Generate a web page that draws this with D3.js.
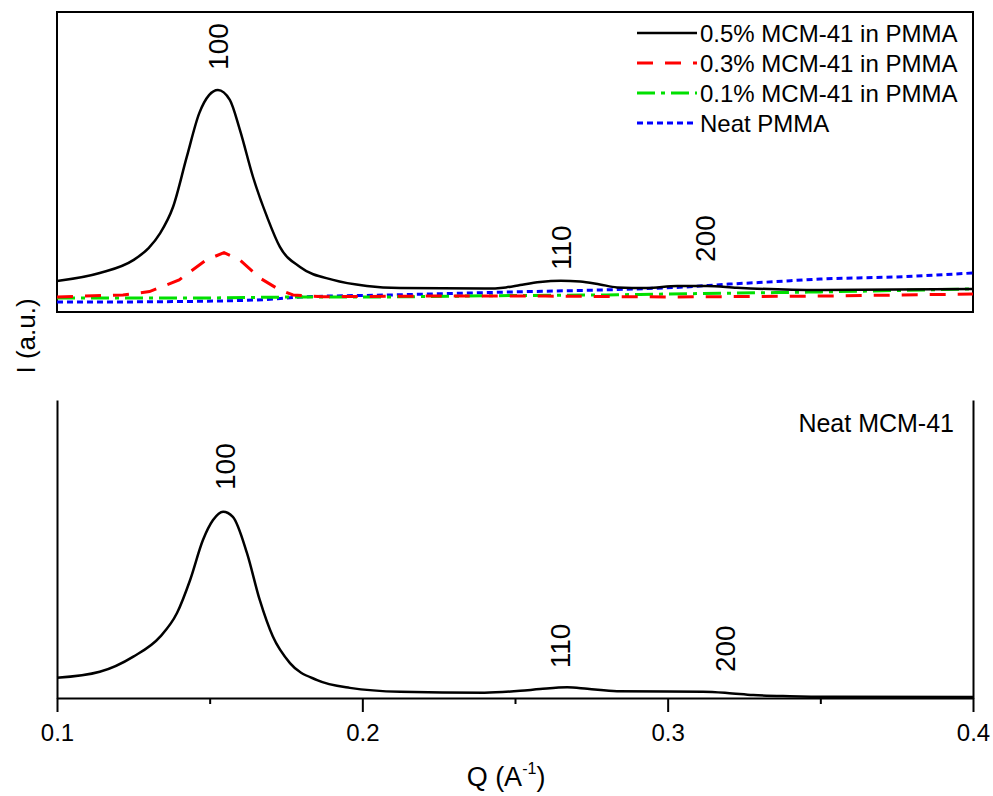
<!DOCTYPE html>
<html>
  <head>
    <title>SAXS MCM-41 / PMMA</title>
    <script type="text/javascript" src="https://d3js.org/d3.v7.min.js"></script>
    <style>
      body { margin: 0; background: #fff; }
      text { font-family: "Liberation Sans", Arial, sans-serif; fill: #000; }
    </style>
  </head>
  <body>
    <svg width="993" height="796" class="saxs"></svg>

    <script type="text/javascript">
      // Q in A^-1, intensity in arbitrary units (0-100 per panel)
      var q05   = [0.100, 0.114, 0.125, 0.130, 0.1338, 0.138, 0.1425, 0.1466, 0.1498, 0.1527, 0.1566, 0.1599, 0.1642, 0.1688, 0.1730, 0.1796, 0.1904, 0.2015, 0.2124, 0.240, 0.247, 0.2517, 0.2582, 0.265, 0.2713, 0.2778, 0.2834, 0.2932, 0.3031, 0.3129, 0.3227, 0.350, 0.400];
      var i05   = [10.3, 13.0, 17.3, 21.3, 26.3, 35.0, 51.7, 66.3, 72.3, 74.0, 70.7, 60.7, 45.0, 31.7, 21.7, 15.0, 10.7, 8.7, 8.0, 7.8, 8.2, 9.0, 10.0, 10.4, 10.2, 9.2, 8.2, 8.0, 8.7, 8.7, 8.1, 7.3, 7.7];

      var q03   = [0.100, 0.1216, 0.1303, 0.140, 0.1488, 0.1547, 0.1599, 0.1665, 0.173, 0.1773, 0.1871, 0.220, 0.260, 0.300, 0.350, 0.400];
      var i03   = [5.0, 5.7, 6.8, 10.7, 17.3, 19.8, 17.3, 11.3, 7.3, 5.7, 5.1, 5.3, 5.3, 5.0, 5.3, 6.0];

      var q01   = [0.100, 0.150, 0.180, 0.200, 0.250, 0.280, 0.300, 0.350, 0.400];
      var i01   = [4.7, 4.7, 5.0, 5.0, 5.5, 5.7, 6.0, 6.7, 7.7];

      var qNeat = [0.100, 0.130, 0.165, 0.180, 0.210, 0.250, 0.290, 0.305, 0.320, 0.335, 0.350, 0.375, 0.400];
      var iNeat = [3.3, 3.4, 4.0, 5.0, 5.7, 6.7, 7.7, 8.3, 9.3, 10.1, 11.0, 11.7, 13.0];

      var qMcm  = [0.100, 0.114, 0.125, 0.1338, 0.1393, 0.1436, 0.1478, 0.1511, 0.1544, 0.1576, 0.1622, 0.1664, 0.1707, 0.1763, 0.1852, 0.1959, 0.2124, 0.240, 0.2517, 0.2582, 0.2671, 0.2737, 0.2834, 0.3116, 0.3195, 0.3280, 0.3400, 0.3540, 0.400];
      var iMcm  = [6.8, 8.8, 13.9, 20.6, 28.5, 39.6, 53.0, 59.7, 62.5, 60.8, 48.7, 32.9, 20.6, 11.7, 6.0, 3.4, 2.1, 1.8, 2.4, 3.0, 3.6, 3.1, 2.3, 2.1, 1.7, 1.0, 0.6, 0.4, 0.3];

      var legendLabels = ['0.5% MCM-41 in PMMA', '0.3% MCM-41 in PMMA', '0.1% MCM-41 in PMMA', 'Neat PMMA'];
      var xTicks = [0.1, 0.2, 0.3, 0.4];
      var xMinorTicks = [0.15, 0.25, 0.35];

      // peak annotations: [label, Q, intensity at the label's foot]
      var topPeaks = [['100', 0.1527, 80.7], ['110', 0.2651, 14.0], ['200', 0.3122, 16.7]];
      var botPeaks = [['100', 0.1550, 69.8], ['110', 0.2648, 10.0], ['200', 0.3188, 8.7]];

      var series = [
        { q: q05,   i: i05,   color: '#000',    width: 2.5, dash: null,        curve: d3.curveMonotoneX },
        { q: q03,   i: i03,   color: '#ff0000', width: 3,   dash: '16,12',     curve: d3.curveLinear },
        { q: q01,   i: i01,   color: '#00e000', width: 3,   dash: '18,6,4,6',  curve: d3.curveMonotoneX },
        { q: qNeat, i: iNeat, color: '#0000ff', width: 3,   dash: '6,4',       curve: d3.curveMonotoneX }
      ];

      var left = 57, right = 973;
      var x = d3.scaleLinear().domain([0.1, 0.4]).range([left, right]);
      var yTop = d3.scaleLinear().domain([0, 100]).range([312, 12]);
      var yBot = d3.scaleLinear().domain([0, 100]).range([698, 400]);

      var svg = d3.select('svg.saxs');

      // top panel frame
      svg.append('rect')
         .attr('x', left).attr('y', yTop(100))
         .attr('width', right - left).attr('height', yTop(0) - yTop(100))
         .attr('fill', 'none').attr('stroke', '#000').attr('stroke-width', 2);

      // clip so curves stay inside the frame
      svg.append('clipPath').attr('id', 'clipTop')
         .append('rect').attr('x', left).attr('y', yTop(100))
         .attr('width', right - left).attr('height', yTop(0) - yTop(100));

      var gTop = svg.append('g').attr('clip-path', 'url(#clipTop)');
      // draw neat first so the black curve sits on top
      series.slice().reverse().forEach(function(s) {
        var pts = s.q.map(function(d, k) { return [d, s.i[k]]; });
        var line = d3.line()
                     .x(function(d) { return x(d[0]); })
                     .y(function(d) { return yTop(d[1]); })
                     .curve(s.curve);
        gTop.append('path')
            .attr('d', line(pts))
            .attr('fill', 'none')
            .attr('stroke', s.color)
            .attr('stroke-width', s.width)
            .attr('stroke-dasharray', s.dash);
      });

      // legend
      var legend = svg.append('g').attr('class', 'legend');
      series.forEach(function(s, k) {
        var yy = 33 + k * 30;
        legend.append('line')
              .attr('x1', 637).attr('x2', 697).attr('y1', yy).attr('y2', yy)
              .attr('stroke', s.color).attr('stroke-width', s.width)
              .attr('stroke-dasharray', s.dash);
        legend.append('text')
              .attr('x', 700).attr('y', yy + 9)
              .style('font-size', '24px')
              .text(legendLabels[k]);
      });

      // bottom panel
      var mcmPts = qMcm.map(function(d, k) { return [d, iMcm[k]]; });
      svg.append('path')
         .attr('d', d3.line()
                      .x(function(d) { return x(d[0]); })
                      .y(function(d) { return yBot(d[1]); })
                      .curve(d3.curveMonotoneX)(mcmPts))
         .attr('fill', 'none').attr('stroke', '#000').attr('stroke-width', 2.5);

      svg.append('g')
         .attr('transform', 'translate(' + left + ',0)')
         .call(d3.axisLeft(yBot).tickValues([]).tickSizeOuter(0))
         .select('.domain').attr('stroke-width', 2);
      svg.append('g')
         .attr('transform', 'translate(' + right + ',0)')
         .call(d3.axisRight(yBot).tickValues([]).tickSizeOuter(0))
         .select('.domain').attr('stroke-width', 2);

      var xAxis = svg.append('g')
         .attr('transform', 'translate(0,' + yBot(0) + ')')
         .call(d3.axisBottom(x).tickValues(xTicks).tickSize(14).tickSizeOuter(0)
                 .tickPadding(12).tickFormat(d3.format('.1f')));
      xAxis.select('.domain').attr('stroke-width', 2);
      xAxis.selectAll('.tick line').attr('stroke-width', 2);
      xAxis.selectAll('.tick text')
           .style('font-size', '24px')
           .style('font-family', '"Liberation Sans", Arial, sans-serif');

      var xMinor = svg.append('g')
         .attr('transform', 'translate(0,' + yBot(0) + ')')
         .call(d3.axisBottom(x).tickValues(xMinorTicks).tickSize(6).tickSizeOuter(0).tickFormat(''));
      xMinor.select('.domain').remove();
      xMinor.selectAll('.tick line').attr('stroke-width', 2);

      // peak labels, rotated
      function peakLabels(list, yScale) {
        svg.append('g').selectAll('text')
           .data(list).enter()
           .append('text')
           .attr('transform', function(d) {
             return 'translate(' + (x(d[1]) + 10) + ',' + yScale(d[2]) + ') rotate(-90)';
           })
           .style('font-size', '28px')
           .text(function(d) { return d[0]; });
      }
      peakLabels(topPeaks, yTop);
      peakLabels(botPeaks, yBot);

      svg.append('text')
         .attr('x', 954).attr('y', 432)
         .attr('text-anchor', 'end')
         .style('font-size', '25px')
         .text('Neat MCM-41');

      // axis titles
      svg.append('text')
         .attr('transform', 'translate(35,336) rotate(-90)')
         .attr('text-anchor', 'middle')
         .style('font-size', '26px')
         .text('I (a.u.)');

      var xt = svg.append('text')
         .attr('x', 506).attr('y', 786)
         .attr('text-anchor', 'middle')
         .style('font-size', '27px');
      xt.append('tspan').text('Q (A');
      xt.append('tspan').attr('dy', -12).style('font-size', '16px').text('-1');
      xt.append('tspan').attr('dy', 12).text(')');
    </script>
  </body>
</html>
